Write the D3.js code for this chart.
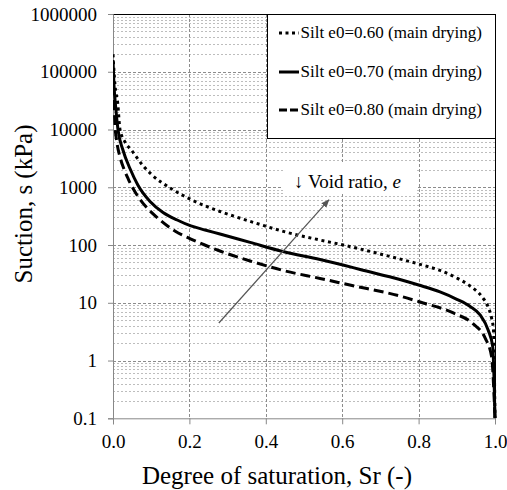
<!DOCTYPE html>
<html>
<head>
<meta charset="utf-8">
<script src="https://cdn.jsdelivr.net/npm/d3@7"></script>
<style>
  body { margin: 0; background: #fff; }
</style>
</head>
<body>
<div class="chart_area"></div>
<script>
// values
var sr_060 = [0, 0.0052, 0.0123, 0.0183, 0.0314, 0.049, 0.0793, 0.101, 0.154, 0.204, 0.28, 0.319, 0.385, 0.446, 0.542, 0.603, 0.647, 0.725, 0.8, 0.856, 0.9, 0.935, 0.965, 0.982, 0.991, 0.996, 1.0];
var s_060 = [200000, 59000, 28800, 10000, 6080, 4330, 2330, 1660, 933, 614, 381, 312, 227, 172, 122, 100, 85.4, 63.4, 47, 36.3, 26.9, 19.5, 12.9, 8.45, 5.45, 3.38, 0.1];

var sr_070 = [0, 0.0026, 0.0065, 0.013, 0.026, 0.045, 0.065, 0.097, 0.131, 0.168, 0.204, 0.241, 0.28, 0.359, 0.445, 0.542, 0.602, 0.647, 0.751, 0.8, 0.856, 0.9, 0.935, 0.961, 0.982, 0.994, 1.0];
var s_070 = [160000, 59000, 26600, 10000, 4420, 2070, 1096, 568, 366, 271, 214, 182, 155, 111, 77.3, 56.2, 45, 37.7, 25.3, 20.3, 15.4, 11.5, 8.63, 6.15, 3.38, 1.74, 0.1];

var sr_080 = [0, 0.0026, 0.0052, 0.0105, 0.0183, 0.0288, 0.040, 0.0662, 0.0916, 0.1186, 0.162, 0.204, 0.28, 0.359, 0.446, 0.542, 0.62, 0.751, 0.804, 0.891, 0.943, 0.974, 0.991, 1.0];
var s_080 = [107000, 32400, 12000, 5840, 3340, 2070, 1390, 679, 421, 288, 175, 127, 78.9, 53, 36.2, 26.4, 20.3, 13.1, 10.3, 6.66, 4.3, 2.46, 1.17, 0.1];

var series_names = ["Silt e0=0.60 (main drying)", "Silt e0=0.70 (main drying)", "Silt e0=0.80 (main drying)"];

var x_ticks = [0, 0.2, 0.4, 0.6, 0.8, 1.0];
var x_tick_labels = ["0.0", "0.2", "0.4", "0.6", "0.8", "1.0"];
var y_ticks = [0.1, 1, 10, 100, 1000, 10000, 100000, 1000000];
var y_tick_labels = ["0.1", "1", "10", "100", "1000", "10000", "100000", "1000000"];

var arrow_from = [0.277, 4.47];
var arrow_to = [0.565, 604];
var note_at = [0.474, 970];

var serif = "'Liberation Serif', 'Times New Roman', serif";
var width_c = 507, height_c = 490;
var p_left = 113, p_right = 495, p_top = 14, p_bottom = 418.3;

var svg = d3.select(".chart_area")
    .append("svg")
    .attr("width", width_c)
    .attr("height", height_c)
    .style("font-family", serif);

var x = d3.scaleLinear().domain([0, 1]).range([p_left, p_right]);
var y = d3.scaleLog().domain([0.1, 1000000]).range([p_bottom, p_top]);

// grid
var grid = svg.append("g");
grid.selectAll(".minor")
    .data(y.ticks().filter(function (d) { return y_ticks.indexOf(d) < 0; }))
    .enter().append("line")
    .attr("x1", p_left).attr("x2", p_right)
    .attr("y1", function (d) { return Math.round(y(d)) + 0.5; })
    .attr("y2", function (d) { return Math.round(y(d)) + 0.5; })
    .style("stroke", "#bdbdbd")
    .style("stroke-dasharray", "2,2");

grid.selectAll(".major")
    .data(y_ticks.slice(1, -1))
    .enter().append("line")
    .attr("x1", p_left).attr("x2", p_right)
    .attr("y1", function (d) { return Math.round(y(d)) + 0.5; })
    .attr("y2", function (d) { return Math.round(y(d)) + 0.5; })
    .style("stroke", "#8c8c8c")
    .style("stroke-dasharray", "3,2");

grid.selectAll(".vert")
    .data(x_ticks.slice(1, -1))
    .enter().append("line")
    .attr("x1", function (d) { return Math.round(x(d)) + 0.5; })
    .attr("x2", function (d) { return Math.round(x(d)) + 0.5; })
    .attr("y1", p_top).attr("y2", p_bottom)
    .style("stroke", "#8c8c8c")
    .style("stroke-dasharray", "3,2");

// frame top / right
svg.append("path")
    .attr("d", "M" + p_left + "," + (p_top + 0.5) + "H" + (p_right + 0.5) + "V" + p_bottom)
    .style("fill", "none")
    .style("stroke", "#000");

// axes
var x_axis = svg.append("g")
    .attr("transform", "translate(0," + p_bottom + ")")
    .call(d3.axisBottom(x).tickValues(x_ticks)
        .tickFormat(function (d, i) { return x_tick_labels[i]; })
        .tickSize(6).tickPadding(10.5));

x_axis.attr("font-family", null);
x_axis.selectAll("text")
    .style("font-family", serif)
    .style("font-size", "19px")
    .style("fill", "#000");
x_axis.selectAll("line").style("stroke", "#888");
x_axis.select(".domain").style("stroke", "#888");

var y_axis = svg.append("g")
    .attr("transform", "translate(" + p_left + ",0)")
    .call(d3.axisLeft(y).tickValues(y_ticks)
        .tickFormat(function (d, i) { return y_tick_labels[i]; })
        .tickSize(5).tickPadding(11));

y_axis.attr("font-family", null);
y_axis.selectAll("text")
    .style("font-family", serif)
    .style("font-size", "19px")
    .style("fill", "#000");
y_axis.selectAll("line").style("stroke", "#888");
y_axis.select(".domain").style("stroke", "#888");

// curves
svg.append("clipPath").attr("id", "plot_clip")
    .append("rect")
    .attr("x", p_left).attr("y", p_top)
    .attr("width", p_right - p_left + 2).attr("height", p_bottom - p_top);

var line = d3.line()
    .x(function (d) { return x(d[0]); })
    .y(function (d) { return y(d[1]); })
    .curve(d3.curveMonotoneX);

function pairs(a, b) {
    return a.map(function (v, i) { return [v, b[i]]; });
}

var series = [
    { name: series_names[0], pts: pairs(sr_060, s_060), dash: "3,3.7" },
    { name: series_names[1], pts: pairs(sr_070, s_070), dash: null },
    { name: series_names[2], pts: pairs(sr_080, s_080), dash: "10,5" }
];

svg.append("g")
    .attr("clip-path", "url(#plot_clip)")
    .selectAll("path")
    .data(series)
    .enter().append("path")
    .attr("d", function (d) { return line(d.pts); })
    .style("fill", "none")
    .style("stroke", "#000")
    .style("stroke-width", 3)
    .style("stroke-dasharray", function (d) { return d.dash; });

// arrow annotation
svg.append("defs").append("marker")
    .attr("id", "head")
    .attr("viewBox", "0 0 10 10")
    .attr("refX", 9).attr("refY", 5)
    .attr("markerWidth", 7).attr("markerHeight", 7)
    .attr("orient", "auto")
    .append("path")
    .attr("d", "M0,1L10,5L0,9Z")
    .style("fill", "#555");

svg.append("line")
    .attr("x1", x(arrow_from[0])).attr("y1", y(arrow_from[1]))
    .attr("x2", x(arrow_to[0])).attr("y2", y(arrow_to[1]))
    .style("stroke", "#555")
    .style("stroke-width", 1.2)
    .attr("marker-end", "url(#head)");

svg.append("rect")
    .attr("x", 283).attr("y", 163)
    .attr("width", 134).attr("height", 31)
    .style("fill", "#fff");

var note = svg.append("text")
    .attr("x", x(note_at[0]))
    .attr("y", y(note_at[1]))
    .style("font-family", serif)
    .style("font-size", "19px");
note.append("tspan").text("\u2193 Void ratio, ");
note.append("tspan").style("font-style", "italic").text("e");

// legend
var lg = svg.append("g");
lg.append("rect")
    .attr("x", 267.5).attr("y", p_top + 0.5)
    .attr("width", 228).attr("height", 124)
    .style("fill", "#fff")
    .style("stroke", "#000");

var lg_rows = [33, 72, 110];
var lg_dash = ["3,3.5", null, "8,3"];
lg.selectAll(".lg_line")
    .data(series)
    .enter().append("line")
    .attr("x1", 279).attr("x2", 299)
    .attr("y1", function (d, i) { return lg_rows[i]; })
    .attr("y2", function (d, i) { return lg_rows[i]; })
    .style("stroke", "#000")
    .style("stroke-width", 3)
    .style("stroke-dasharray", function (d, i) { return lg_dash[i]; });

lg.selectAll(".lg_text")
    .data(series)
    .enter().append("text")
    .attr("x", 300.5)
    .attr("y", function (d, i) { return lg_rows[i] + 5; })
    .style("font-family", serif)
    .style("font-size", "17px")
    .text(function (d) { return d.name; });

// axis titles
svg.append("text")
    .attr("x", 277).attr("y", 484)
    .attr("text-anchor", "middle")
    .style("font-family", serif)
    .style("font-size", "25px")
    .text("Degree of saturation, Sr (-)");

svg.append("text")
    .attr("transform", "translate(32,204) rotate(-90)")
    .attr("text-anchor", "middle")
    .style("font-family", serif)
    .style("font-size", "25px")
    .text("Suction, s (kPa)");
</script>
</body>
</html>
